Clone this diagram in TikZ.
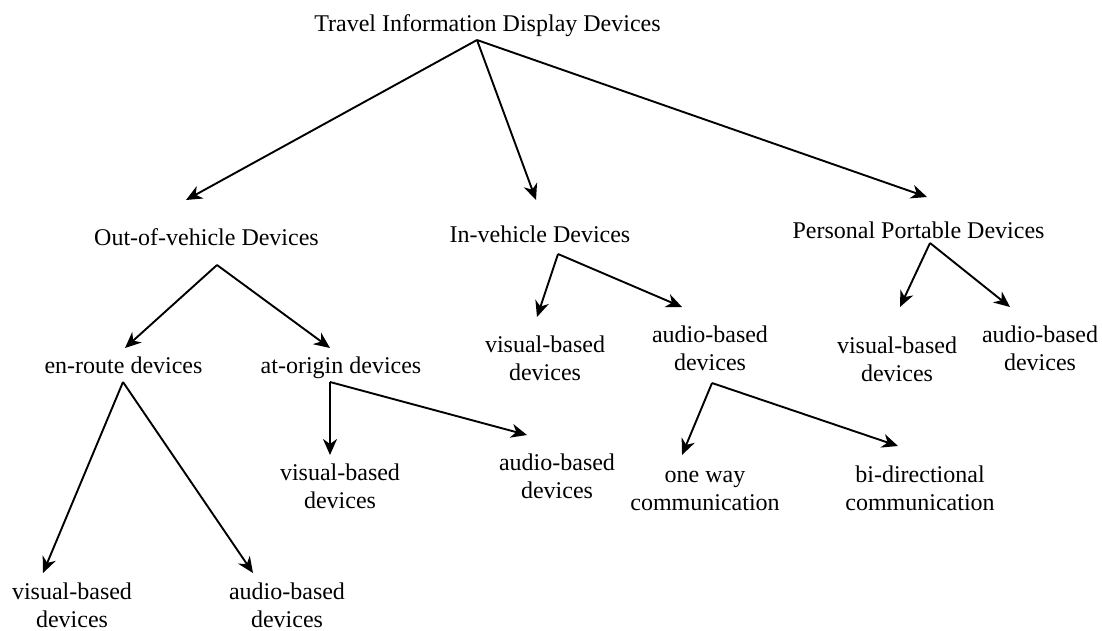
\documentclass[tikz,border=0pt]{standalone}
\usepackage{fontspec}
\setmainfont{Liberation Serif}
\usetikzlibrary{arrows.meta}
\begin{document}
\begin{tikzpicture}[x=1pt,y=-1pt,
  lbl/.style={inner sep=0pt,align=center,anchor=base,font=\fontsize{24}{28}\selectfont},
  conn/.style={line width=1.9pt,-{Stealth[length=16pt,width=14pt,inset=5pt]}}]
\useasboundingbox (0,0) rectangle (1102,630);
% nodes (base anchor = baseline of last line)
\node[lbl] (T) at (487.5,31) {Travel Information Display Devices};
\node[lbl] (O) at (206.5,245) {Out-of-vehicle Devices};
\node[lbl] (I) at (540,242) {In-vehicle Devices};
\node[lbl] (P) at (918.5,238) {Personal Portable Devices};
\node[lbl] (ER) at (123.5,373) {en-route devices};
\node[lbl] (AO) at (341,373) {at-origin devices};
\node[lbl] (IV) at (545,380) {visual-based\\devices};
\node[lbl] (IA) at (710,370) {audio-based\\devices};
\node[lbl] (PV) at (897,381) {visual-based\\devices};
\node[lbl] (PA) at (1040,370) {audio-based\\devices};
\node[lbl] (AOV) at (340,508) {visual-based\\devices};
\node[lbl] (AOA) at (557,498) {audio-based\\devices};
\node[lbl] (ERV) at (72,627) {visual-based\\devices};
\node[lbl] (ERA) at (287,627) {audio-based\\devices};
\node[lbl] (OW) at (705,510) {one way\\communication};
\node[lbl] (BD) at (920,510) {bi-directional\\communication};
% apex coordinates
\coordinate (tA) at (477,40);
\coordinate (oA) at (217,265);
\coordinate (iA) at (558,254);
\coordinate (pA) at (930,243);
\coordinate (erA) at (123,382);
\coordinate (aoA) at (330,382);
\coordinate (iaA) at (712,383);
% tips
\coordinate (tO) at (186,200);
\coordinate (tI) at (536,200);
\coordinate (tP) at (927,197);
\coordinate (tER) at (125,348);
\coordinate (tAO) at (330,348);
\coordinate (tIV) at (537,317);
\coordinate (tIA) at (682,307);
\coordinate (tPV) at (900,307);
\coordinate (tPA) at (1010,307);
\coordinate (tERV) at (43,573);
\coordinate (tERA) at (253,573);
\coordinate (tAOV) at (330,455);
\coordinate (tAOA) at (527,435);
\coordinate (tOW) at (682,455);
\coordinate (tBD) at (898,446);
% connectors
\draw[conn] (tA) -- (tO);
\draw[conn] (tA) -- (tI);
\draw[conn] (tA) -- (tP);
\draw[conn] (oA) -- (tER);
\draw[conn] (oA) -- (tAO);
\draw[conn] (iA) -- (tIV);
\draw[conn] (iA) -- (tIA);
\draw[conn] (pA) -- (tPV);
\draw[conn] (pA) -- (tPA);
\draw[conn] (erA) -- (tERV);
\draw[conn] (erA) -- (tERA);
\draw[conn] (aoA) -- (tAOV);
\draw[conn] (aoA) -- (tAOA);
\draw[conn] (iaA) -- (tOW);
\draw[conn] (iaA) -- (tBD);
\end{tikzpicture}
\end{document}
